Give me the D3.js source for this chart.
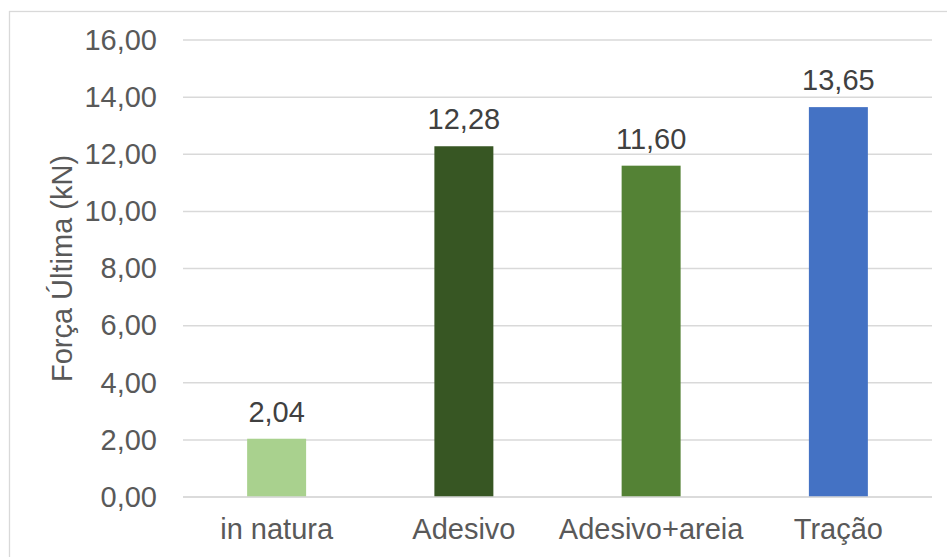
<!DOCTYPE html>
<html>
<head>
<meta charset="utf-8">
<script src="https://cdn.jsdelivr.net/npm/d3@7"></script>
<style>
  html, body { margin: 0; padding: 0; background: #fff; }
  svg { display: block; font-family: "Liberation Sans", Arial, sans-serif; }
</style>
</head>
<body>
<svg id="chart" width="947" height="557"></svg>
<script>
// Ultimate force per treatment
const categories = ["in natura", "Adesivo", "Adesivo+areia", "Tração"];
const values = [2.04, 12.28, 11.60, 13.65];
const colors = ["#A9D18E", "#375623", "#548235", "#4472C4"];
const yTicks = [0, 2, 4, 6, 8, 10, 12, 14, 16];
const yTitle = "Força Última (kN)";

const W = 947, H = 557;
const margin = { left: 183, right: 15, top: 40, bottom: 60 };
const FONT = "29px";

const svg = d3.select("#chart");
const fmt = v => d3.format(".2f")(v).replace(".", ",");

// outer frame
svg.append("rect")
  .attr("x", 9.5).attr("y", 11.5)
  .attr("width", W).attr("height", H)
  .attr("fill", "none").attr("stroke", "#d9d9d9").attr("stroke-width", 1.3);

const x = d3.scaleBand()
  .domain(categories)
  .range([margin.left, W - margin.right])
  .paddingInner(0.685).paddingOuter(0.3425);

const y = d3.scaleLinear()
  .domain([0, 16])
  .range([H - margin.bottom, margin.top]);

// gridlines
svg.append("g")
  .selectAll("line")
  .data(yTicks)
  .join("line")
  .attr("x1", margin.left).attr("x2", W - margin.right)
  .attr("y1", d => y(d)).attr("y2", d => y(d))
  .attr("stroke", "#d9d9d9").attr("stroke-width", 1.5);

// y axis labels
const yAxis = svg.append("g")
  .attr("transform", `translate(${margin.left},0)`)
  .call(d3.axisLeft(y).tickValues(yTicks).tickFormat(fmt).tickSize(0).tickPadding(26));
yAxis.select(".domain").remove();
yAxis.selectAll("text")
  .attr("fill", "#595959")
  .style("font-size", FONT)
  .style("font-family", "'Liberation Sans', Arial, sans-serif");

// x axis labels
const xAxis = svg.append("g")
  .attr("transform", `translate(0,${y(0)})`)
  .call(d3.axisBottom(x).tickSize(0).tickPadding(21));
xAxis.select(".domain").remove();
xAxis.selectAll("text")
  .attr("fill", "#595959")
  .style("font-size", FONT)
  .style("font-family", "'Liberation Sans', Arial, sans-serif");

// bars
svg.append("g")
  .selectAll("rect")
  .data(values)
  .join("rect")
  .attr("x", (d, i) => x(categories[i]))
  .attr("width", x.bandwidth())
  .attr("y", d => y(d))
  .attr("height", d => y(0) - y(d))
  .attr("fill", (d, i) => colors[i]);

// baseline
svg.append("line")
  .attr("x1", margin.left).attr("x2", W - margin.right)
  .attr("y1", y(0)).attr("y2", y(0))
  .attr("stroke", "#d9d9d9").attr("stroke-width", 1.5);

// value labels
svg.append("g")
  .selectAll("text")
  .data(values)
  .join("text")
  .attr("x", (d, i) => x(categories[i]) + x.bandwidth() / 2)
  .attr("y", d => y(d) - 17)
  .attr("text-anchor", "middle")
  .attr("fill", "#404040")
  .style("font-size", FONT)
  .text(fmt);

// y axis title
svg.append("text")
  .attr("transform", `translate(62,${(y(0) + y(16)) / 2}) rotate(-90)`)
  .attr("text-anchor", "middle")
  .attr("dominant-baseline", "central")
  .attr("fill", "#595959")
  .style("font-size", FONT)
  .text(yTitle);
</script>
</body>
</html>
